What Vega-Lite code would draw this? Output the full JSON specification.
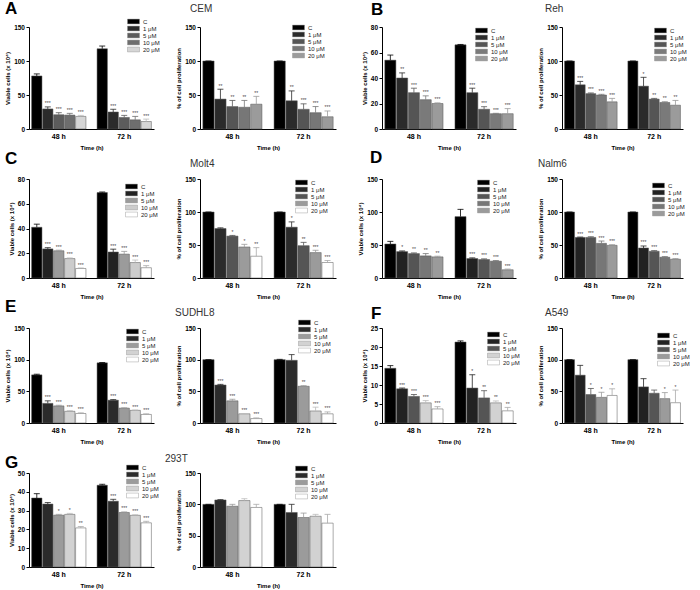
{
"$schema": "https://vega.github.io/schema/vega-lite/v6.json",
"autosize": {"type": "none"},
"padding": {"left": 29, "top": 27, "right": 671, "bottom": 563},
"data": {"values": [
{"p":"A1","t":"48 h","d":"C","v":78,"hi":81,"s":""},
{"p":"A1","t":"48 h","d":"1 μM","v":29.5,"hi":32.5,"s":"***"},
{"p":"A1","t":"48 h","d":"5 μM","v":21,"hi":24,"s":"***"},
{"p":"A1","t":"48 h","d":"10 μM","v":20.5,"hi":23,"s":"***"},
{"p":"A1","t":"48 h","d":"20 μM","v":18.5,"hi":20,"s":"***"},
{"p":"A1","t":"72 h","d":"C","v":118,"hi":122,"s":""},
{"p":"A1","t":"72 h","d":"1 μM","v":25,"hi":29,"s":"***"},
{"p":"A1","t":"72 h","d":"5 μM","v":17,"hi":20,"s":"***"},
{"p":"A1","t":"72 h","d":"10 μM","v":13.5,"hi":18.5,"s":"***"},
{"p":"A1","t":"72 h","d":"20 μM","v":11,"hi":14.5,"s":"***"},
{"p":"A2","t":"48 h","d":"C","v":100,"hi":100,"s":""},
{"p":"A2","t":"48 h","d":"1 μM","v":44,"hi":58.5,"s":"**"},
{"p":"A2","t":"48 h","d":"5 μM","v":33,"hi":42,"s":"**"},
{"p":"A2","t":"48 h","d":"10 μM","v":32,"hi":42,"s":"**"},
{"p":"A2","t":"48 h","d":"20 μM","v":36.5,"hi":48,"s":"**"},
{"p":"A2","t":"72 h","d":"C","v":100,"hi":100,"s":""},
{"p":"A2","t":"72 h","d":"1 μM","v":41.5,"hi":56,"s":"**"},
{"p":"A2","t":"72 h","d":"5 μM","v":29,"hi":37,"s":"***"},
{"p":"A2","t":"72 h","d":"10 μM","v":24,"hi":33,"s":"***"},
{"p":"A2","t":"72 h","d":"20 μM","v":18,"hi":26.5,"s":"***"},
{"p":"B1","t":"48 h","d":"C","v":54,"hi":58,"s":""},
{"p":"B1","t":"48 h","d":"1 μM","v":40,"hi":44,"s":"**"},
{"p":"B1","t":"48 h","d":"5 μM","v":28.5,"hi":32,"s":"***"},
{"p":"B1","t":"48 h","d":"10 μM","v":23,"hi":26,"s":"***"},
{"p":"B1","t":"48 h","d":"20 μM","v":20,"hi":20.5,"s":"***"},
{"p":"B1","t":"72 h","d":"C","v":66,"hi":66.3,"s":""},
{"p":"B1","t":"72 h","d":"1 μM","v":28.5,"hi":32,"s":"***"},
{"p":"B1","t":"72 h","d":"5 μM","v":15.5,"hi":17.5,"s":"***"},
{"p":"B1","t":"72 h","d":"10 μM","v":12,"hi":12.3,"s":"***"},
{"p":"B1","t":"72 h","d":"20 μM","v":12,"hi":16,"s":"***"},
{"p":"B2","t":"48 h","d":"C","v":100,"hi":100,"s":""},
{"p":"B2","t":"48 h","d":"1 μM","v":65,"hi":70,"s":"***"},
{"p":"B2","t":"48 h","d":"5 μM","v":52,"hi":53,"s":"***"},
{"p":"B2","t":"48 h","d":"10 μM","v":50,"hi":51,"s":"***"},
{"p":"B2","t":"48 h","d":"20 μM","v":40,"hi":45,"s":"***"},
{"p":"B2","t":"72 h","d":"C","v":100,"hi":100,"s":""},
{"p":"B2","t":"72 h","d":"1 μM","v":63,"hi":76,"s":"*"},
{"p":"B2","t":"72 h","d":"5 μM","v":44,"hi":45,"s":"**"},
{"p":"B2","t":"72 h","d":"10 μM","v":39,"hi":40,"s":"**"},
{"p":"B2","t":"72 h","d":"20 μM","v":35,"hi":42,"s":"**"},
{"p":"C1","t":"48 h","d":"C","v":41,"hi":43.5,"s":""},
{"p":"C1","t":"48 h","d":"1 μM","v":23.5,"hi":24.5,"s":"***"},
{"p":"C1","t":"48 h","d":"5 μM","v":22,"hi":22.5,"s":"***"},
{"p":"C1","t":"48 h","d":"10 μM","v":15.7,"hi":16.2,"s":"***"},
{"p":"C1","t":"48 h","d":"20 μM","v":7.7,"hi":8,"s":"***"},
{"p":"C1","t":"72 h","d":"C","v":69,"hi":69.5,"s":""},
{"p":"C1","t":"72 h","d":"1 μM","v":21,"hi":23.3,"s":"***"},
{"p":"C1","t":"72 h","d":"5 μM","v":19.3,"hi":21.5,"s":"***"},
{"p":"C1","t":"72 h","d":"10 μM","v":12.5,"hi":14.5,"s":"***"},
{"p":"C1","t":"72 h","d":"20 μM","v":8.3,"hi":10,"s":"***"},
{"p":"C2","t":"48 h","d":"C","v":100,"hi":100,"s":""},
{"p":"C2","t":"48 h","d":"1 μM","v":75,"hi":76,"s":""},
{"p":"C2","t":"48 h","d":"5 μM","v":63.5,"hi":64.5,"s":"*"},
{"p":"C2","t":"48 h","d":"10 μM","v":47,"hi":51,"s":"*"},
{"p":"C2","t":"48 h","d":"20 μM","v":33,"hi":46,"s":"**"},
{"p":"C2","t":"72 h","d":"C","v":100,"hi":100,"s":""},
{"p":"C2","t":"72 h","d":"1 μM","v":77,"hi":85,"s":"*"},
{"p":"C2","t":"72 h","d":"5 μM","v":49,"hi":54,"s":"**"},
{"p":"C2","t":"72 h","d":"10 μM","v":38.5,"hi":42,"s":"***"},
{"p":"C2","t":"72 h","d":"20 μM","v":23.5,"hi":26.5,"s":"***"},
{"p":"D1","t":"48 h","d":"C","v":51.5,"hi":55.5,"s":""},
{"p":"D1","t":"48 h","d":"1 μM","v":40,"hi":41,"s":"*"},
{"p":"D1","t":"48 h","d":"5 μM","v":37,"hi":38,"s":"**"},
{"p":"D1","t":"48 h","d":"10 μM","v":33.5,"hi":37,"s":"**"},
{"p":"D1","t":"48 h","d":"20 μM","v":32,"hi":33,"s":"**"},
{"p":"D1","t":"72 h","d":"C","v":93,"hi":104,"s":""},
{"p":"D1","t":"72 h","d":"1 μM","v":29.5,"hi":30.5,"s":"***"},
{"p":"D1","t":"72 h","d":"5 μM","v":28,"hi":29,"s":"***"},
{"p":"D1","t":"72 h","d":"10 μM","v":25.5,"hi":26.5,"s":"***"},
{"p":"D1","t":"72 h","d":"20 μM","v":12.5,"hi":13.5,"s":"***"},
{"p":"D2","t":"48 h","d":"C","v":100,"hi":100,"s":""},
{"p":"D2","t":"48 h","d":"1 μM","v":61.5,"hi":62,"s":"***"},
{"p":"D2","t":"48 h","d":"5 μM","v":61.5,"hi":62.5,"s":"***"},
{"p":"D2","t":"48 h","d":"10 μM","v":52.5,"hi":56,"s":"***"},
{"p":"D2","t":"48 h","d":"20 μM","v":49.5,"hi":50.5,"s":"***"},
{"p":"D2","t":"72 h","d":"C","v":100,"hi":100,"s":""},
{"p":"D2","t":"72 h","d":"1 μM","v":45.5,"hi":48.5,"s":"***"},
{"p":"D2","t":"72 h","d":"5 μM","v":40.5,"hi":41.5,"s":"***"},
{"p":"D2","t":"72 h","d":"10 μM","v":31.5,"hi":32.5,"s":"***"},
{"p":"D2","t":"72 h","d":"20 μM","v":28.5,"hi":29.5,"s":"***"},
{"p":"E1","t":"48 h","d":"C","v":76,"hi":77,"s":""},
{"p":"E1","t":"48 h","d":"1 μM","v":31,"hi":35,"s":"***"},
{"p":"E1","t":"48 h","d":"5 μM","v":27,"hi":28,"s":"***"},
{"p":"E1","t":"48 h","d":"10 μM","v":18.5,"hi":19.5,"s":"***"},
{"p":"E1","t":"48 h","d":"20 μM","v":15,"hi":16,"s":"***"},
{"p":"E1","t":"72 h","d":"C","v":95,"hi":95.5,"s":""},
{"p":"E1","t":"72 h","d":"1 μM","v":36,"hi":37,"s":"***"},
{"p":"E1","t":"72 h","d":"5 μM","v":23.5,"hi":24,"s":"***"},
{"p":"E1","t":"72 h","d":"10 μM","v":20,"hi":20.5,"s":"***"},
{"p":"E1","t":"72 h","d":"20 μM","v":13.5,"hi":14.5,"s":"***"},
{"p":"E2","t":"48 h","d":"C","v":100,"hi":100,"s":""},
{"p":"E2","t":"48 h","d":"1 μM","v":60,"hi":61,"s":"***"},
{"p":"E2","t":"48 h","d":"5 μM","v":35,"hi":37.5,"s":"***"},
{"p":"E2","t":"48 h","d":"10 μM","v":14.5,"hi":15,"s":"***"},
{"p":"E2","t":"48 h","d":"20 μM","v":7,"hi":8,"s":"***"},
{"p":"E2","t":"72 h","d":"C","v":100,"hi":100.5,"s":""},
{"p":"E2","t":"72 h","d":"1 μM","v":99,"hi":108,"s":""},
{"p":"E2","t":"72 h","d":"5 μM","v":58,"hi":59,"s":"**"},
{"p":"E2","t":"72 h","d":"10 μM","v":19,"hi":25,"s":"***"},
{"p":"E2","t":"72 h","d":"20 μM","v":14.5,"hi":17.5,"s":"***"},
{"p":"F1","t":"48 h","d":"C","v":14.4,"hi":15.1,"s":""},
{"p":"F1","t":"48 h","d":"1 μM","v":9,"hi":9.2,"s":"***"},
{"p":"F1","t":"48 h","d":"5 μM","v":7,"hi":7.5,"s":"***"},
{"p":"F1","t":"48 h","d":"10 μM","v":5.3,"hi":5.9,"s":"***"},
{"p":"F1","t":"48 h","d":"20 μM","v":3.7,"hi":4.3,"s":"***"},
{"p":"F1","t":"72 h","d":"C","v":21.3,"hi":21.6,"s":""},
{"p":"F1","t":"72 h","d":"1 μM","v":9.2,"hi":12.7,"s":"*"},
{"p":"F1","t":"72 h","d":"5 μM","v":6.6,"hi":8.5,"s":"**"},
{"p":"F1","t":"72 h","d":"10 μM","v":5.3,"hi":5.8,"s":"**"},
{"p":"F1","t":"72 h","d":"20 μM","v":3.2,"hi":4.1,"s":"**"},
{"p":"F2","t":"48 h","d":"C","v":100,"hi":100,"s":""},
{"p":"F2","t":"48 h","d":"1 μM","v":75.5,"hi":91,"s":""},
{"p":"F2","t":"48 h","d":"5 μM","v":45,"hi":54.5,"s":"*"},
{"p":"F2","t":"48 h","d":"10 μM","v":40.5,"hi":48.5,"s":"*"},
{"p":"F2","t":"48 h","d":"20 μM","v":43.5,"hi":54,"s":"*"},
{"p":"F2","t":"72 h","d":"C","v":100,"hi":100,"s":""},
{"p":"F2","t":"72 h","d":"1 μM","v":57,"hi":70,"s":""},
{"p":"F2","t":"72 h","d":"5 μM","v":47,"hi":52,"s":""},
{"p":"F2","t":"72 h","d":"10 μM","v":38.5,"hi":48,"s":"*"},
{"p":"F2","t":"72 h","d":"20 μM","v":32,"hi":52,"s":"*"},
{"p":"G1","t":"48 h","d":"C","v":36.7,"hi":39,"s":""},
{"p":"G1","t":"48 h","d":"1 μM","v":33.5,"hi":34.3,"s":""},
{"p":"G1","t":"48 h","d":"5 μM","v":27.6,"hi":28,"s":"*"},
{"p":"G1","t":"48 h","d":"10 μM","v":28,"hi":28.5,"s":"*"},
{"p":"G1","t":"48 h","d":"20 μM","v":20.8,"hi":21.5,"s":"**"},
{"p":"G1","t":"72 h","d":"C","v":43.5,"hi":44,"s":""},
{"p":"G1","t":"72 h","d":"1 μM","v":35,"hi":36,"s":"***"},
{"p":"G1","t":"72 h","d":"5 μM","v":29,"hi":29.3,"s":"***"},
{"p":"G1","t":"72 h","d":"10 μM","v":27.5,"hi":27.8,"s":"***"},
{"p":"G1","t":"72 h","d":"20 μM","v":23.5,"hi":24.3,"s":"***"},
{"p":"G2","t":"48 h","d":"C","v":100,"hi":100,"s":""},
{"p":"G2","t":"48 h","d":"1 μM","v":107,"hi":107.5,"s":""},
{"p":"G2","t":"48 h","d":"5 μM","v":97,"hi":100,"s":""},
{"p":"G2","t":"48 h","d":"10 μM","v":106,"hi":109,"s":""},
{"p":"G2","t":"48 h","d":"20 μM","v":95,"hi":100,"s":""},
{"p":"G2","t":"72 h","d":"C","v":100,"hi":100,"s":""},
{"p":"G2","t":"72 h","d":"1 μM","v":87,"hi":100,"s":""},
{"p":"G2","t":"72 h","d":"5 μM","v":79,"hi":86,"s":""},
{"p":"G2","t":"72 h","d":"10 μM","v":81,"hi":84,"s":""},
{"p":"G2","t":"72 h","d":"20 μM","v":70,"hi":84,"s":""}
]},
"columns": 4,
"bounds": "flush",
"align": "each",
"spacing": {"row": 50, "column": 46},
"resolve": {"scale": {"color": "independent", "stroke": "independent", "x": "independent", "y": "independent", "xOffset": "independent"}, "legend": {"color": "independent", "stroke": "independent"}},
"concat": [
{"width": 125, "height": 102,
 "title": {"text": "A", "fontSize": 17, "fontWeight": "bold", "dx": -24, "offset": 0},
 "transform": [{"filter": "datum.p == 'A1'"}],
 "encoding": {"x": {"field": "t", "type": "nominal", "title": "Time (h)", "scale": {"paddingInner": 0.17, "paddingOuter": 0.04}}, "xOffset": {"field": "d", "type": "nominal", "sort": ["C","1 μM","5 μM","10 μM","20 μM"], "scale": {"paddingInner": 0.06}}},
 "layer": [
  {"mark": {"type": "bar", "stroke": "#555", "strokeWidth": 0.5}, "encoding": {"y": {"field": "v", "type": "quantitative", "title": "Viable cells (x 10⁴)", "scale": {"domain": [0, 150], "nice": false}, "axis": {"values": [0, 50, 100, 150], "labelOverlap": false}}, "color": {"field": "d", "type": "nominal", "sort": ["C","1 μM","5 μM","10 μM","20 μM"], "scale": {"range": ["#000000","#2b2b2b","#5c5c5c","#6e6e6e","#d6d6d6"]}, "legend": {"title": null, "legendX": 98, "legendY": -9}}}},
  {"mark": {"type": "rule", "strokeWidth": 0.8}, "encoding": {"y": {"field": "v", "type": "quantitative", "title": "Viable cells (x 10⁴)", "axis": {"values": [0, 50, 100, 150], "labelOverlap": false}}, "y2": {"field": "hi"}, "stroke": {"field": "d", "type": "nominal", "sort": ["C","1 μM","5 μM","10 μM","20 μM"], "scale": {"range": ["#000000","#2b2b2b","#5c5c5c","#6e6e6e","#bbbbbb"]}, "legend": null}}},
  {"mark": {"type": "point", "shape": "M-1,0H1", "size": 36, "strokeWidth": 0.8, "filled": false, "opacity": 1}, "encoding": {"y": {"field": "hi", "type": "quantitative", "title": "Viable cells (x 10⁴)", "axis": {"values": [0, 50, 100, 150], "labelOverlap": false}}, "stroke": {"field": "d", "type": "nominal", "sort": ["C","1 μM","5 μM","10 μM","20 μM"], "scale": {"range": ["#000000","#2b2b2b","#5c5c5c","#6e6e6e","#bbbbbb"]}, "legend": null}}},
  {"mark": {"type": "text", "fontSize": 5, "baseline": "bottom", "dy": -0.5, "color": "#444"}, "encoding": {"y": {"field": "hi", "type": "quantitative", "title": "Viable cells (x 10⁴)", "axis": {"values": [0, 50, 100, 150], "labelOverlap": false}}, "text": {"field": "s"}}}
 ]},
{"width": 136, "height": 102,
 "title": {"text": "CEM", "fontSize": 10, "fontWeight": "normal", "color": "#333", "dx": -10, "offset": 10},
 "transform": [{"filter": "datum.p == 'A2'"}],
 "encoding": {"x": {"field": "t", "type": "nominal", "title": "Time (h)", "scale": {"paddingInner": 0.17, "paddingOuter": 0.04}}, "xOffset": {"field": "d", "type": "nominal", "sort": ["C","1 μM","5 μM","10 μM","20 μM"], "scale": {"paddingInner": 0.06}}},
 "layer": [
  {"mark": {"type": "bar", "stroke": "#555", "strokeWidth": 0.5}, "encoding": {"y": {"field": "v", "type": "quantitative", "title": "% of cell proliferation", "scale": {"domain": [0, 150], "nice": false}, "axis": {"values": [0, 50, 100, 150], "labelOverlap": false}}, "color": {"field": "d", "type": "nominal", "sort": ["C","1 μM","5 μM","10 μM","20 μM"], "scale": {"range": ["#000000","#2b2b2b","#555555","#777777","#9b9b9b"]}, "legend": {"title": null, "legendX": 92, "legendY": -3}}}},
  {"mark": {"type": "rule", "strokeWidth": 0.8}, "encoding": {"y": {"field": "v", "type": "quantitative", "title": "% of cell proliferation", "axis": {"values": [0, 50, 100, 150], "labelOverlap": false}}, "y2": {"field": "hi"}, "stroke": {"field": "d", "type": "nominal", "sort": ["C","1 μM","5 μM","10 μM","20 μM"], "scale": {"range": ["#000000","#2b2b2b","#555555","#777777","#9b9b9b"]}, "legend": null}}},
  {"mark": {"type": "point", "shape": "M-1,0H1", "size": 36, "strokeWidth": 0.8, "filled": false, "opacity": 1}, "encoding": {"y": {"field": "hi", "type": "quantitative", "title": "% of cell proliferation", "axis": {"values": [0, 50, 100, 150], "labelOverlap": false}}, "stroke": {"field": "d", "type": "nominal", "sort": ["C","1 μM","5 μM","10 μM","20 μM"], "scale": {"range": ["#000000","#2b2b2b","#555555","#777777","#9b9b9b"]}, "legend": null}}},
  {"mark": {"type": "text", "fontSize": 5, "baseline": "bottom", "dy": -0.5, "color": "#444"}, "encoding": {"y": {"field": "hi", "type": "quantitative", "title": "% of cell proliferation", "axis": {"values": [0, 50, 100, 150], "labelOverlap": false}}, "text": {"field": "s"}}}
 ]},
{"width": 134, "height": 102,
 "title": {"text": "B", "fontSize": 17, "fontWeight": "bold", "dx": -11, "offset": 5},
 "transform": [{"filter": "datum.p == 'B1'"}],
 "encoding": {"x": {"field": "t", "type": "nominal", "title": "Time (h)", "scale": {"paddingInner": 0.17, "paddingOuter": 0.04}}, "xOffset": {"field": "d", "type": "nominal", "sort": ["C","1 μM","5 μM","10 μM","20 μM"], "scale": {"paddingInner": 0.06}}},
 "layer": [
  {"mark": {"type": "bar", "stroke": "#555", "strokeWidth": 0.5}, "encoding": {"y": {"field": "v", "type": "quantitative", "title": "Viable cells (x 10⁴)", "scale": {"domain": [0, 80], "nice": false}, "axis": {"values": [0, 20, 40, 60, 80], "labelOverlap": false}}, "color": {"field": "d", "type": "nominal", "sort": ["C","1 μM","5 μM","10 μM","20 μM"], "scale": {"range": ["#000000","#2b2b2b","#555555","#7a7a7a","#9b9b9b"]}, "legend": {"title": null, "legendX": 93, "legendY": 0}}}},
  {"mark": {"type": "rule", "strokeWidth": 0.8}, "encoding": {"y": {"field": "v", "type": "quantitative", "title": "Viable cells (x 10⁴)", "axis": {"values": [0, 20, 40, 60, 80], "labelOverlap": false}}, "y2": {"field": "hi"}, "stroke": {"field": "d", "type": "nominal", "sort": ["C","1 μM","5 μM","10 μM","20 μM"], "scale": {"range": ["#000000","#2b2b2b","#555555","#7a7a7a","#9b9b9b"]}, "legend": null}}},
  {"mark": {"type": "point", "shape": "M-1,0H1", "size": 36, "strokeWidth": 0.8, "filled": false, "opacity": 1}, "encoding": {"y": {"field": "hi", "type": "quantitative", "title": "Viable cells (x 10⁴)", "axis": {"values": [0, 20, 40, 60, 80], "labelOverlap": false}}, "stroke": {"field": "d", "type": "nominal", "sort": ["C","1 μM","5 μM","10 μM","20 μM"], "scale": {"range": ["#000000","#2b2b2b","#555555","#7a7a7a","#9b9b9b"]}, "legend": null}}},
  {"mark": {"type": "text", "fontSize": 5, "baseline": "bottom", "dy": -0.5, "color": "#444"}, "encoding": {"y": {"field": "hi", "type": "quantitative", "title": "Viable cells (x 10⁴)", "axis": {"values": [0, 20, 40, 60, 80], "labelOverlap": false}}, "text": {"field": "s"}}}
 ]},
{"width": 121, "height": 102,
 "title": {"text": "Reh", "fontSize": 10, "fontWeight": "normal", "color": "#333", "dx": -17, "offset": 10},
 "transform": [{"filter": "datum.p == 'B2'"}],
 "encoding": {"x": {"field": "t", "type": "nominal", "title": "Time (h)", "scale": {"paddingInner": 0.17, "paddingOuter": 0.04}}, "xOffset": {"field": "d", "type": "nominal", "sort": ["C","1 μM","5 μM","10 μM","20 μM"], "scale": {"paddingInner": 0.06}}},
 "layer": [
  {"mark": {"type": "bar", "stroke": "#555", "strokeWidth": 0.5}, "encoding": {"y": {"field": "v", "type": "quantitative", "title": "% of cell proliferation", "scale": {"domain": [0, 150], "nice": false}, "axis": {"values": [0, 50, 100, 150], "labelOverlap": false}}, "color": {"field": "d", "type": "nominal", "sort": ["C","1 μM","5 μM","10 μM","20 μM"], "scale": {"range": ["#000000","#2b2b2b","#555555","#7a7a7a","#9b9b9b"]}, "legend": {"title": null, "legendX": 92, "legendY": 0}}}},
  {"mark": {"type": "rule", "strokeWidth": 0.8}, "encoding": {"y": {"field": "v", "type": "quantitative", "title": "% of cell proliferation", "axis": {"values": [0, 50, 100, 150], "labelOverlap": false}}, "y2": {"field": "hi"}, "stroke": {"field": "d", "type": "nominal", "sort": ["C","1 μM","5 μM","10 μM","20 μM"], "scale": {"range": ["#000000","#2b2b2b","#555555","#7a7a7a","#9b9b9b"]}, "legend": null}}},
  {"mark": {"type": "point", "shape": "M-1,0H1", "size": 36, "strokeWidth": 0.8, "filled": false, "opacity": 1}, "encoding": {"y": {"field": "hi", "type": "quantitative", "title": "% of cell proliferation", "axis": {"values": [0, 50, 100, 150], "labelOverlap": false}}, "stroke": {"field": "d", "type": "nominal", "sort": ["C","1 μM","5 μM","10 μM","20 μM"], "scale": {"range": ["#000000","#2b2b2b","#555555","#7a7a7a","#9b9b9b"]}, "legend": null}}},
  {"mark": {"type": "text", "fontSize": 5, "baseline": "bottom", "dy": -0.5, "color": "#444"}, "encoding": {"y": {"field": "hi", "type": "quantitative", "title": "% of cell proliferation", "axis": {"values": [0, 50, 100, 150], "labelOverlap": false}}, "text": {"field": "s"}}}
 ]},
{"width": 125, "height": 99,
 "title": {"text": "C", "fontSize": 17, "fontWeight": "bold", "dx": -24, "offset": 8},
 "transform": [{"filter": "datum.p == 'C1'"}],
 "encoding": {"x": {"field": "t", "type": "nominal", "title": "Time (h)", "scale": {"paddingInner": 0.17, "paddingOuter": 0.04}}, "xOffset": {"field": "d", "type": "nominal", "sort": ["C","1 μM","5 μM","10 μM","20 μM"], "scale": {"paddingInner": 0.06}}},
 "layer": [
  {"mark": {"type": "bar", "stroke": "#555", "strokeWidth": 0.5}, "encoding": {"y": {"field": "v", "type": "quantitative", "title": "Viable cells (x 10⁴)", "scale": {"domain": [0, 80], "nice": false}, "axis": {"values": [0, 20, 40, 60, 80], "labelOverlap": false}}, "color": {"field": "d", "type": "nominal", "sort": ["C","1 μM","5 μM","10 μM","20 μM"], "scale": {"range": ["#000000","#222222","#9b9b9b","#cccccc","#ffffff"]}, "legend": {"title": null, "legendX": 96, "legendY": 4}}}},
  {"mark": {"type": "rule", "strokeWidth": 0.8}, "encoding": {"y": {"field": "v", "type": "quantitative", "title": "Viable cells (x 10⁴)", "axis": {"values": [0, 20, 40, 60, 80], "labelOverlap": false}}, "y2": {"field": "hi"}, "stroke": {"field": "d", "type": "nominal", "sort": ["C","1 μM","5 μM","10 μM","20 μM"], "scale": {"range": ["#000000","#222222","#9b9b9b","#bbbbbb","#aaaaaa"]}, "legend": null}}},
  {"mark": {"type": "point", "shape": "M-1,0H1", "size": 36, "strokeWidth": 0.8, "filled": false, "opacity": 1}, "encoding": {"y": {"field": "hi", "type": "quantitative", "title": "Viable cells (x 10⁴)", "axis": {"values": [0, 20, 40, 60, 80], "labelOverlap": false}}, "stroke": {"field": "d", "type": "nominal", "sort": ["C","1 μM","5 μM","10 μM","20 μM"], "scale": {"range": ["#000000","#222222","#9b9b9b","#bbbbbb","#aaaaaa"]}, "legend": null}}},
  {"mark": {"type": "text", "fontSize": 5, "baseline": "bottom", "dy": -0.5, "color": "#444"}, "encoding": {"y": {"field": "hi", "type": "quantitative", "title": "Viable cells (x 10⁴)", "axis": {"values": [0, 20, 40, 60, 80], "labelOverlap": false}}, "text": {"field": "s"}}}
 ]},
{"width": 136, "height": 99,
 "title": {"text": "Molt4", "fontSize": 10, "fontWeight": "normal", "color": "#333", "dx": -10, "offset": 7},
 "transform": [{"filter": "datum.p == 'C2'"}],
 "encoding": {"x": {"field": "t", "type": "nominal", "title": "Time (h)", "scale": {"paddingInner": 0.17, "paddingOuter": 0.04}}, "xOffset": {"field": "d", "type": "nominal", "sort": ["C","1 μM","5 μM","10 μM","20 μM"], "scale": {"paddingInner": 0.06}}},
 "layer": [
  {"mark": {"type": "bar", "stroke": "#555", "strokeWidth": 0.5}, "encoding": {"y": {"field": "v", "type": "quantitative", "title": "% of cell proliferation", "scale": {"domain": [0, 150], "nice": false}, "axis": {"values": [0, 50, 100, 150], "labelOverlap": false}}, "color": {"field": "d", "type": "nominal", "sort": ["C","1 μM","5 μM","10 μM","20 μM"], "scale": {"range": ["#000000","#2b2b2b","#555555","#9b9b9b","#ffffff"]}, "legend": {"title": null, "legendX": 95, "legendY": 0}}}},
  {"mark": {"type": "rule", "strokeWidth": 0.8}, "encoding": {"y": {"field": "v", "type": "quantitative", "title": "% of cell proliferation", "axis": {"values": [0, 50, 100, 150], "labelOverlap": false}}, "y2": {"field": "hi"}, "stroke": {"field": "d", "type": "nominal", "sort": ["C","1 μM","5 μM","10 μM","20 μM"], "scale": {"range": ["#000000","#2b2b2b","#555555","#9b9b9b","#aaaaaa"]}, "legend": null}}},
  {"mark": {"type": "point", "shape": "M-1,0H1", "size": 36, "strokeWidth": 0.8, "filled": false, "opacity": 1}, "encoding": {"y": {"field": "hi", "type": "quantitative", "title": "% of cell proliferation", "axis": {"values": [0, 50, 100, 150], "labelOverlap": false}}, "stroke": {"field": "d", "type": "nominal", "sort": ["C","1 μM","5 μM","10 μM","20 μM"], "scale": {"range": ["#000000","#2b2b2b","#555555","#9b9b9b","#aaaaaa"]}, "legend": null}}},
  {"mark": {"type": "text", "fontSize": 5, "baseline": "bottom", "dy": -0.5, "color": "#444"}, "encoding": {"y": {"field": "hi", "type": "quantitative", "title": "% of cell proliferation", "axis": {"values": [0, 50, 100, 150], "labelOverlap": false}}, "text": {"field": "s"}}}
 ]},
{"width": 134, "height": 99,
 "title": {"text": "D", "fontSize": 17, "fontWeight": "bold", "dx": -12, "offset": 9},
 "transform": [{"filter": "datum.p == 'D1'"}],
 "encoding": {"x": {"field": "t", "type": "nominal", "title": "Time (h)", "scale": {"paddingInner": 0.17, "paddingOuter": 0.04}}, "xOffset": {"field": "d", "type": "nominal", "sort": ["C","1 μM","5 μM","10 μM","20 μM"], "scale": {"paddingInner": 0.06}}},
 "layer": [
  {"mark": {"type": "bar", "stroke": "#555", "strokeWidth": 0.5}, "encoding": {"y": {"field": "v", "type": "quantitative", "title": "Viable cells (x 10⁴)", "scale": {"domain": [0, 150], "nice": false}, "axis": {"values": [0, 50, 100, 150], "labelOverlap": false}}, "color": {"field": "d", "type": "nominal", "sort": ["C","1 μM","5 μM","10 μM","20 μM"], "scale": {"range": ["#000000","#222222","#555555","#777777","#9b9b9b"]}, "legend": {"title": null, "legendX": 95, "legendY": 0}}}},
  {"mark": {"type": "rule", "strokeWidth": 0.8}, "encoding": {"y": {"field": "v", "type": "quantitative", "title": "Viable cells (x 10⁴)", "axis": {"values": [0, 50, 100, 150], "labelOverlap": false}}, "y2": {"field": "hi"}, "stroke": {"field": "d", "type": "nominal", "sort": ["C","1 μM","5 μM","10 μM","20 μM"], "scale": {"range": ["#000000","#222222","#555555","#777777","#9b9b9b"]}, "legend": null}}},
  {"mark": {"type": "point", "shape": "M-1,0H1", "size": 36, "strokeWidth": 0.8, "filled": false, "opacity": 1}, "encoding": {"y": {"field": "hi", "type": "quantitative", "title": "Viable cells (x 10⁴)", "axis": {"values": [0, 50, 100, 150], "labelOverlap": false}}, "stroke": {"field": "d", "type": "nominal", "sort": ["C","1 μM","5 μM","10 μM","20 μM"], "scale": {"range": ["#000000","#222222","#555555","#777777","#9b9b9b"]}, "legend": null}}},
  {"mark": {"type": "text", "fontSize": 5, "baseline": "bottom", "dy": -0.5, "color": "#444"}, "encoding": {"y": {"field": "hi", "type": "quantitative", "title": "Viable cells (x 10⁴)", "axis": {"values": [0, 50, 100, 150], "labelOverlap": false}}, "text": {"field": "s"}}}
 ]},
{"width": 121, "height": 99,
 "title": {"text": "Nalm6", "fontSize": 10, "fontWeight": "normal", "color": "#333", "dx": -24, "offset": 7},
 "transform": [{"filter": "datum.p == 'D2'"}],
 "encoding": {"x": {"field": "t", "type": "nominal", "title": "Time (h)", "scale": {"paddingInner": 0.17, "paddingOuter": 0.04}}, "xOffset": {"field": "d", "type": "nominal", "sort": ["C","1 μM","5 μM","10 μM","20 μM"], "scale": {"paddingInner": 0.06}}},
 "layer": [
  {"mark": {"type": "bar", "stroke": "#555", "strokeWidth": 0.5}, "encoding": {"y": {"field": "v", "type": "quantitative", "title": "% of cell proliferation", "scale": {"domain": [0, 150], "nice": false}, "axis": {"values": [0, 50, 100, 150], "labelOverlap": false}}, "color": {"field": "d", "type": "nominal", "sort": ["C","1 μM","5 μM","10 μM","20 μM"], "scale": {"range": ["#000000","#222222","#555555","#777777","#9b9b9b"]}, "legend": {"title": null, "legendX": 90, "legendY": 3}}}},
  {"mark": {"type": "rule", "strokeWidth": 0.8}, "encoding": {"y": {"field": "v", "type": "quantitative", "title": "% of cell proliferation", "axis": {"values": [0, 50, 100, 150], "labelOverlap": false}}, "y2": {"field": "hi"}, "stroke": {"field": "d", "type": "nominal", "sort": ["C","1 μM","5 μM","10 μM","20 μM"], "scale": {"range": ["#000000","#222222","#555555","#777777","#9b9b9b"]}, "legend": null}}},
  {"mark": {"type": "point", "shape": "M-1,0H1", "size": 36, "strokeWidth": 0.8, "filled": false, "opacity": 1}, "encoding": {"y": {"field": "hi", "type": "quantitative", "title": "% of cell proliferation", "axis": {"values": [0, 50, 100, 150], "labelOverlap": false}}, "stroke": {"field": "d", "type": "nominal", "sort": ["C","1 μM","5 μM","10 μM","20 μM"], "scale": {"range": ["#000000","#222222","#555555","#777777","#9b9b9b"]}, "legend": null}}},
  {"mark": {"type": "text", "fontSize": 5, "baseline": "bottom", "dy": -0.5, "color": "#444"}, "encoding": {"y": {"field": "hi", "type": "quantitative", "title": "% of cell proliferation", "axis": {"values": [0, 50, 100, 150], "labelOverlap": false}}, "text": {"field": "s"}}}
 ]},
{"width": 125, "height": 95,
 "title": {"text": "E", "fontSize": 17, "fontWeight": "bold", "dx": -24, "offset": 9},
 "transform": [{"filter": "datum.p == 'E1'"}],
 "encoding": {"x": {"field": "t", "type": "nominal", "title": "Time (h)", "scale": {"paddingInner": 0.17, "paddingOuter": 0.04}}, "xOffset": {"field": "d", "type": "nominal", "sort": ["C","1 μM","5 μM","10 μM","20 μM"], "scale": {"paddingInner": 0.06}}},
 "layer": [
  {"mark": {"type": "bar", "stroke": "#555", "strokeWidth": 0.5}, "encoding": {"y": {"field": "v", "type": "quantitative", "title": "Viable cells (x 10⁴)", "scale": {"domain": [0, 150], "nice": false}, "axis": {"values": [0, 50, 100, 150], "labelOverlap": false}}, "color": {"field": "d", "type": "nominal", "sort": ["C","1 μM","5 μM","10 μM","20 μM"], "scale": {"range": ["#000000","#2b2b2b","#9b9b9b","#d2d2d2","#ffffff"]}, "legend": {"title": null, "legendX": 97, "legendY": 0}}}},
  {"mark": {"type": "rule", "strokeWidth": 0.8}, "encoding": {"y": {"field": "v", "type": "quantitative", "title": "Viable cells (x 10⁴)", "axis": {"values": [0, 50, 100, 150], "labelOverlap": false}}, "y2": {"field": "hi"}, "stroke": {"field": "d", "type": "nominal", "sort": ["C","1 μM","5 μM","10 μM","20 μM"], "scale": {"range": ["#000000","#2b2b2b","#9b9b9b","#bbbbbb","#aaaaaa"]}, "legend": null}}},
  {"mark": {"type": "point", "shape": "M-1,0H1", "size": 36, "strokeWidth": 0.8, "filled": false, "opacity": 1}, "encoding": {"y": {"field": "hi", "type": "quantitative", "title": "Viable cells (x 10⁴)", "axis": {"values": [0, 50, 100, 150], "labelOverlap": false}}, "stroke": {"field": "d", "type": "nominal", "sort": ["C","1 μM","5 μM","10 μM","20 μM"], "scale": {"range": ["#000000","#2b2b2b","#9b9b9b","#bbbbbb","#aaaaaa"]}, "legend": null}}},
  {"mark": {"type": "text", "fontSize": 5, "baseline": "bottom", "dy": -0.5, "color": "#444"}, "encoding": {"y": {"field": "hi", "type": "quantitative", "title": "Viable cells (x 10⁴)", "axis": {"values": [0, 50, 100, 150], "labelOverlap": false}}, "text": {"field": "s"}}}
 ]},
{"width": 136, "height": 95,
 "title": {"text": "SUDHL8", "fontSize": 10, "fontWeight": "normal", "color": "#333", "dx": -25, "offset": 1},
 "transform": [{"filter": "datum.p == 'E2'"}],
 "encoding": {"x": {"field": "t", "type": "nominal", "title": "Time (h)", "scale": {"paddingInner": 0.17, "paddingOuter": 0.04}}, "xOffset": {"field": "d", "type": "nominal", "sort": ["C","1 μM","5 μM","10 μM","20 μM"], "scale": {"paddingInner": 0.06}}},
 "layer": [
  {"mark": {"type": "bar", "stroke": "#555", "strokeWidth": 0.5}, "encoding": {"y": {"field": "v", "type": "quantitative", "title": "% of cell proliferation", "scale": {"domain": [0, 150], "nice": false}, "axis": {"values": [0, 50, 100, 150], "labelOverlap": false}}, "color": {"field": "d", "type": "nominal", "sort": ["C","1 μM","5 μM","10 μM","20 μM"], "scale": {"range": ["#000000","#2b2b2b","#9b9b9b","#d2d2d2","#ffffff"]}, "legend": {"title": null, "legendX": 98, "legendY": -9}}}},
  {"mark": {"type": "rule", "strokeWidth": 0.8}, "encoding": {"y": {"field": "v", "type": "quantitative", "title": "% of cell proliferation", "axis": {"values": [0, 50, 100, 150], "labelOverlap": false}}, "y2": {"field": "hi"}, "stroke": {"field": "d", "type": "nominal", "sort": ["C","1 μM","5 μM","10 μM","20 μM"], "scale": {"range": ["#000000","#2b2b2b","#9b9b9b","#bbbbbb","#aaaaaa"]}, "legend": null}}},
  {"mark": {"type": "point", "shape": "M-1,0H1", "size": 36, "strokeWidth": 0.8, "filled": false, "opacity": 1}, "encoding": {"y": {"field": "hi", "type": "quantitative", "title": "% of cell proliferation", "axis": {"values": [0, 50, 100, 150], "labelOverlap": false}}, "stroke": {"field": "d", "type": "nominal", "sort": ["C","1 μM","5 μM","10 μM","20 μM"], "scale": {"range": ["#000000","#2b2b2b","#9b9b9b","#bbbbbb","#aaaaaa"]}, "legend": null}}},
  {"mark": {"type": "text", "fontSize": 5, "baseline": "bottom", "dy": -0.5, "color": "#444"}, "encoding": {"y": {"field": "hi", "type": "quantitative", "title": "% of cell proliferation", "axis": {"values": [0, 50, 100, 150], "labelOverlap": false}}, "text": {"field": "s"}}}
 ]},
{"width": 134, "height": 95,
 "title": {"text": "F", "fontSize": 17, "fontWeight": "bold", "dx": -11, "offset": 2},
 "transform": [{"filter": "datum.p == 'F1'"}],
 "encoding": {"x": {"field": "t", "type": "nominal", "title": "Time (h)", "scale": {"paddingInner": 0.17, "paddingOuter": 0.04}}, "xOffset": {"field": "d", "type": "nominal", "sort": ["C","1 μM","5 μM","10 μM","20 μM"], "scale": {"paddingInner": 0.06}}},
 "layer": [
  {"mark": {"type": "bar", "stroke": "#555", "strokeWidth": 0.5}, "encoding": {"y": {"field": "v", "type": "quantitative", "title": "Viable cells (x 10⁴)", "scale": {"domain": [0, 25], "nice": false}, "axis": {"values": [0, 5, 10, 15, 20, 25], "labelOverlap": false}}, "color": {"field": "d", "type": "nominal", "sort": ["C","1 μM","5 μM","10 μM","20 μM"], "scale": {"range": ["#000000","#222222","#555555","#d2d2d2","#ffffff"]}, "legend": {"title": null, "legendX": 105, "legendY": 3}}}},
  {"mark": {"type": "rule", "strokeWidth": 0.8}, "encoding": {"y": {"field": "v", "type": "quantitative", "title": "Viable cells (x 10⁴)", "axis": {"values": [0, 5, 10, 15, 20, 25], "labelOverlap": false}}, "y2": {"field": "hi"}, "stroke": {"field": "d", "type": "nominal", "sort": ["C","1 μM","5 μM","10 μM","20 μM"], "scale": {"range": ["#000000","#222222","#555555","#bbbbbb","#aaaaaa"]}, "legend": null}}},
  {"mark": {"type": "point", "shape": "M-1,0H1", "size": 36, "strokeWidth": 0.8, "filled": false, "opacity": 1}, "encoding": {"y": {"field": "hi", "type": "quantitative", "title": "Viable cells (x 10⁴)", "axis": {"values": [0, 5, 10, 15, 20, 25], "labelOverlap": false}}, "stroke": {"field": "d", "type": "nominal", "sort": ["C","1 μM","5 μM","10 μM","20 μM"], "scale": {"range": ["#000000","#222222","#555555","#bbbbbb","#aaaaaa"]}, "legend": null}}},
  {"mark": {"type": "text", "fontSize": 5, "baseline": "bottom", "dy": -0.5, "color": "#444"}, "encoding": {"y": {"field": "hi", "type": "quantitative", "title": "Viable cells (x 10⁴)", "axis": {"values": [0, 5, 10, 15, 20, 25], "labelOverlap": false}}, "text": {"field": "s"}}}
 ]},
{"width": 121, "height": 95,
 "title": {"text": "A549", "fontSize": 10, "fontWeight": "normal", "color": "#333", "dx": -17, "offset": 7},
 "transform": [{"filter": "datum.p == 'F2'"}],
 "encoding": {"x": {"field": "t", "type": "nominal", "title": "Time (h)", "scale": {"paddingInner": 0.17, "paddingOuter": 0.04}}, "xOffset": {"field": "d", "type": "nominal", "sort": ["C","1 μM","5 μM","10 μM","20 μM"], "scale": {"paddingInner": 0.06}}},
 "layer": [
  {"mark": {"type": "bar", "stroke": "#555", "strokeWidth": 0.5}, "encoding": {"y": {"field": "v", "type": "quantitative", "title": "% of cell proliferation", "scale": {"domain": [0, 150], "nice": false}, "axis": {"values": [0, 50, 100, 150], "labelOverlap": false}}, "color": {"field": "d", "type": "nominal", "sort": ["C","1 μM","5 μM","10 μM","20 μM"], "scale": {"range": ["#000000","#222222","#555555","#9b9b9b","#ffffff"]}, "legend": {"title": null, "legendX": 95, "legendY": 4}}}},
  {"mark": {"type": "rule", "strokeWidth": 0.8}, "encoding": {"y": {"field": "v", "type": "quantitative", "title": "% of cell proliferation", "axis": {"values": [0, 50, 100, 150], "labelOverlap": false}}, "y2": {"field": "hi"}, "stroke": {"field": "d", "type": "nominal", "sort": ["C","1 μM","5 μM","10 μM","20 μM"], "scale": {"range": ["#000000","#222222","#555555","#9b9b9b","#aaaaaa"]}, "legend": null}}},
  {"mark": {"type": "point", "shape": "M-1,0H1", "size": 36, "strokeWidth": 0.8, "filled": false, "opacity": 1}, "encoding": {"y": {"field": "hi", "type": "quantitative", "title": "% of cell proliferation", "axis": {"values": [0, 50, 100, 150], "labelOverlap": false}}, "stroke": {"field": "d", "type": "nominal", "sort": ["C","1 μM","5 μM","10 μM","20 μM"], "scale": {"range": ["#000000","#222222","#555555","#9b9b9b","#aaaaaa"]}, "legend": null}}},
  {"mark": {"type": "text", "fontSize": 5, "baseline": "bottom", "dy": -0.5, "color": "#444"}, "encoding": {"y": {"field": "hi", "type": "quantitative", "title": "% of cell proliferation", "axis": {"values": [0, 50, 100, 150], "labelOverlap": false}}, "text": {"field": "s"}}}
 ]},
{"width": 125, "height": 94,
 "title": {"text": "G", "fontSize": 17, "fontWeight": "bold", "dx": -24, "offset": -8},
 "transform": [{"filter": "datum.p == 'G1'"}],
 "encoding": {"x": {"field": "t", "type": "nominal", "title": "Time (h)", "scale": {"paddingInner": 0.17, "paddingOuter": 0.04}}, "xOffset": {"field": "d", "type": "nominal", "sort": ["C","1 μM","5 μM","10 μM","20 μM"], "scale": {"paddingInner": 0.06}}},
 "layer": [
  {"mark": {"type": "bar", "stroke": "#555", "strokeWidth": 0.5}, "encoding": {"y": {"field": "v", "type": "quantitative", "title": "Viable cells (x 10⁴)", "scale": {"domain": [0, 50], "nice": false}, "axis": {"values": [0, 10, 20, 30, 40, 50], "labelOverlap": false}}, "color": {"field": "d", "type": "nominal", "sort": ["C","1 μM","5 μM","10 μM","20 μM"], "scale": {"range": ["#000000","#2b2b2b","#9b9b9b","#d2d2d2","#ffffff"]}, "legend": {"title": null, "legendX": 97, "legendY": -9}}}},
  {"mark": {"type": "rule", "strokeWidth": 0.8}, "encoding": {"y": {"field": "v", "type": "quantitative", "title": "Viable cells (x 10⁴)", "axis": {"values": [0, 10, 20, 30, 40, 50], "labelOverlap": false}}, "y2": {"field": "hi"}, "stroke": {"field": "d", "type": "nominal", "sort": ["C","1 μM","5 μM","10 μM","20 μM"], "scale": {"range": ["#000000","#2b2b2b","#9b9b9b","#bbbbbb","#aaaaaa"]}, "legend": null}}},
  {"mark": {"type": "point", "shape": "M-1,0H1", "size": 36, "strokeWidth": 0.8, "filled": false, "opacity": 1}, "encoding": {"y": {"field": "hi", "type": "quantitative", "title": "Viable cells (x 10⁴)", "axis": {"values": [0, 10, 20, 30, 40, 50], "labelOverlap": false}}, "stroke": {"field": "d", "type": "nominal", "sort": ["C","1 μM","5 μM","10 μM","20 μM"], "scale": {"range": ["#000000","#2b2b2b","#9b9b9b","#bbbbbb","#aaaaaa"]}, "legend": null}}},
  {"mark": {"type": "text", "fontSize": 5, "baseline": "bottom", "dy": -0.5, "color": "#444"}, "encoding": {"y": {"field": "hi", "type": "quantitative", "title": "Viable cells (x 10⁴)", "axis": {"values": [0, 10, 20, 30, 40, 50], "labelOverlap": false}}, "text": {"field": "s"}}}
 ]},
{"width": 136, "height": 94,
 "title": {"text": "293T", "fontSize": 10, "fontWeight": "normal", "color": "#333", "dx": -35, "offset": 1},
 "transform": [{"filter": "datum.p == 'G2'"}],
 "encoding": {"x": {"field": "t", "type": "nominal", "title": "Time (h)", "scale": {"paddingInner": 0.17, "paddingOuter": 0.04}}, "xOffset": {"field": "d", "type": "nominal", "sort": ["C","1 μM","5 μM","10 μM","20 μM"], "scale": {"paddingInner": 0.06}}},
 "layer": [
  {"mark": {"type": "bar", "stroke": "#555", "strokeWidth": 0.5}, "encoding": {"y": {"field": "v", "type": "quantitative", "title": "% of cell proliferation", "scale": {"domain": [0, 150], "nice": false}, "axis": {"values": [0, 50, 100, 150], "labelOverlap": false}}, "color": {"field": "d", "type": "nominal", "sort": ["C","1 μM","5 μM","10 μM","20 μM"], "scale": {"range": ["#000000","#2b2b2b","#9b9b9b","#d2d2d2","#ffffff"]}, "legend": {"title": null, "legendX": 95, "legendY": -8}}}},
  {"mark": {"type": "rule", "strokeWidth": 0.8}, "encoding": {"y": {"field": "v", "type": "quantitative", "title": "% of cell proliferation", "axis": {"values": [0, 50, 100, 150], "labelOverlap": false}}, "y2": {"field": "hi"}, "stroke": {"field": "d", "type": "nominal", "sort": ["C","1 μM","5 μM","10 μM","20 μM"], "scale": {"range": ["#000000","#2b2b2b","#9b9b9b","#bbbbbb","#aaaaaa"]}, "legend": null}}},
  {"mark": {"type": "point", "shape": "M-1,0H1", "size": 36, "strokeWidth": 0.8, "filled": false, "opacity": 1}, "encoding": {"y": {"field": "hi", "type": "quantitative", "title": "% of cell proliferation", "axis": {"values": [0, 50, 100, 150], "labelOverlap": false}}, "stroke": {"field": "d", "type": "nominal", "sort": ["C","1 μM","5 μM","10 μM","20 μM"], "scale": {"range": ["#000000","#2b2b2b","#9b9b9b","#bbbbbb","#aaaaaa"]}, "legend": null}}},
  {"mark": {"type": "text", "fontSize": 5, "baseline": "bottom", "dy": -0.5, "color": "#444"}, "encoding": {"y": {"field": "hi", "type": "quantitative", "title": "% of cell proliferation", "axis": {"values": [0, 50, 100, 150], "labelOverlap": false}}, "text": {"field": "s"}}}
 ]}
],
"config": {
 "font": "Liberation Sans",
 "view": {"stroke": null},
 "axis": {"labelFont": "Liberation Sans", "labelFontWeight": "bold", "labelColor": "#000", "labelFontSize": 6.5, "titleFont": "Liberation Sans", "titleFontWeight": "bold", "titleFontSize": 6, "titleColor": "#000", "domainColor": "#000", "domainWidth": 1, "tickColor": "#000", "tickWidth": 1, "tickSize": 3, "grid": false, "labelPadding": 1.5, "labelOverlap": false, "labelBound": false, "labelFlush": false},
 "axisX": {"ticks": false, "labelAngle": 0, "labelFontSize": 7, "labelPadding": 3, "titlePadding": 5},
 "axisY": {"titlePadding": 3},
 "legend": {"orient": "none", "padding": 0, "rowPadding": 0, "symbolType": "M-1,-0.8H3V0.8H-1Z", "symbolSize": 36, "labelFont": "Liberation Sans", "labelFontSize": 6, "labelColor": "#222", "labelOffset": 9, "symbolStrokeColor": "#888", "symbolStrokeWidth": 0.4},
 "title": {"font": "Liberation Sans", "anchor": "start", "frame": "group", "baseline": "alphabetic", "color": "#000"},
 "text": {"font": "Liberation Sans"}
}
}
